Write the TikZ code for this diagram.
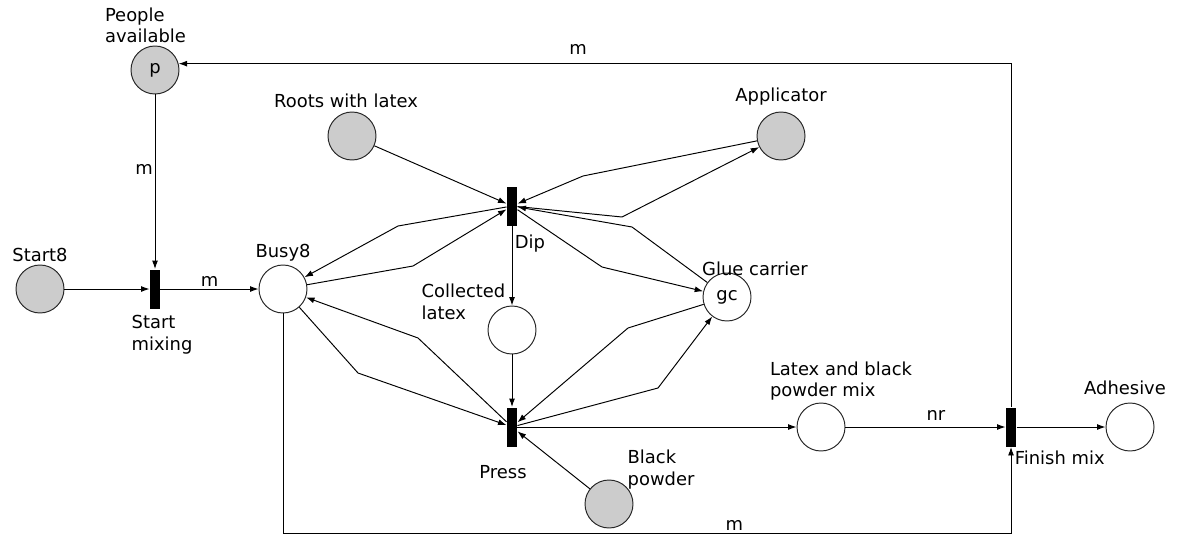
\documentclass[tikz,border=0pt]{standalone}
\usepackage{fontspec}
\setmainfont{DejaVu Sans}
\usetikzlibrary{positioning}
\usetikzlibrary{arrows.meta}
\tikzset{>={Latex[width=1.2mm,length=1.7mm]}}

\begin{document}
\begin{tikzpicture}[on grid, font=\fontsize{10.2}{12.4}\selectfont, line width=0.55pt,
    place/.style={circle, draw=black!85, minimum size=9.6mm, inner sep=0pt},
    token/.style={place, fill=black!20},
    trans/.style={rectangle, fill=black, minimum width=2mm, minimum height=7.8mm, inner sep=0pt} ]

    \useasboundingbox (-0.8,-4.92) rectangle (22.88,5.78);

    %Nodes
    \node[token] (start8) at (0,0) [label={[label distance=-0.8mm]above:Start8}] {};
    \node[trans] (smix) [right=2.3cm of start8, label={[align=left, xshift=1.4mm]below:{Start\\mixing}}] {};
    \node[place] (busy8) [right=2.56cm of smix, label={[label distance=-0.7mm]above:Busy8}] {};
    \node[token] (p) [above=4.38cm of smix, label={[align=left, xshift=-1.9mm, label distance=-0.8mm]above:{People\\available}}] {p};
    \node[token] (roots) [above right=3.06cm and 1.38cm of busy8, label={[xshift=-1.2mm, label distance=-0.5mm]above:Roots with latex}] {};
    \node[trans] (dip) [above right=1.66cm and 4.58cm of busy8, label={[xshift=3.6mm, label distance=0.6mm]below:Dip}] {};
    \node[token] (appl) [above right=1.4cm and 5.38cm of dip, label={above:Applicator}] {};
    \node[place] (coll) [below=2.48cm of dip, label={[align=left, xshift=3.4mm, yshift=-2.7mm]above left:{Collected\\latex}}] {};
    \node[place] (gc) [below right=1.82cm and 4.3cm of dip, label={[xshift=5.6mm, label distance=-2mm]above:Glue carrier}] {gc};
    \node[trans] (press) [below=4.42cm of dip, label={[xshift=-1.8mm, label distance=2.5mm]below:Press}] {};
    \node[token] (bpow) [below right=1.54cm and 1.94cm of press, label={[align=left, xshift=-1mm, yshift=-1.8mm]above right:{Black\\powder}}] {};
    \node[place] (lbpm) [right=6.18cm of press, label={[align=left, xshift=4mm, label distance=-0.9mm]above:{Latex and black\\powder mix}}] {};
    \node[trans] (fin) [right=3.8cm of lbpm, label={[xshift=-1.6mm, yshift=-2.4mm]below right:Finish mix}] {};
    \node[place] (adh) [right=2.38cm of fin, label={[xshift=-1mm, label distance=0.3mm]above:Adhesive}] {};

    %Bends
    \coordinate[above right=0.6cm and 1.42cm of dip] (appl_in_bend);
    \coordinate[below right=0.22cm and 2.2cm of dip] (appl_out_bend);
    \coordinate[below right=0.42cm and 2.4cm of dip] (gc_in_bend);
    \coordinate[below right=1.22cm and 1.8cm of dip] (gc_out_bend);
    \coordinate[below left=0.4cm and 2.28cm of dip] (busy_out_bend);
    \coordinate[below left=1.2cm and 1.98cm of dip] (busy_in_bend);
    \coordinate[above left=1.78cm and 1.88cm of press] (press_busy_bend);
    \coordinate[above left=1.08cm and 3.08cm of press] (busy_press_bend);
    \coordinate[above right=1.98cm and 2.32cm of press] (gc_press_bend);
    \coordinate[above right=0.78cm and 2.92cm of press] (press_gc_bend);
    \coordinate[below=4.88cm of busy8] (bottom_corner);

    %Lines
    \draw[->] (start8) -- (smix);
    \draw[->] (p) -- node[pos=0.43, left, inner sep=1pt] {m} (smix);
    \draw[->] (smix) -- node[above, inner sep=1pt] {m} (busy8);
    \draw[->] (roots) -- (dip);
    \draw[->] (appl) -- (appl_in_bend) -- (dip);
    \draw[->] (dip) -- (appl_out_bend) -- (appl);
    \draw[->] (gc) -- (gc_in_bend) -- (dip);
    \draw[->] (dip) -- (gc_out_bend) -- (gc);
    \draw[->] (dip) -- (busy_out_bend) -- (busy8);
    \draw[->] (busy8) -- (busy_in_bend) -- (dip);
    \draw[->] (dip) -- (coll);
    \draw[->] (coll) -- (press);
    \draw[->] (press) -- (press_busy_bend) -- (busy8);
    \draw[->] (busy8) -- (busy_press_bend) -- (press);
    \draw[->] (gc) -- (gc_press_bend) -- (press);
    \draw[->] (press) -- (press_gc_bend) -- (gc);
    \draw[->] (bpow) -- (press);
    \draw[->] (press) -- (lbpm);
    \draw[->] (lbpm) -- node[pos=0.565, above] {nr} (fin);
    \draw[->] (fin) -- (adh);
    \draw[->] (fin) |- node[pos=0.76, above=0.6mm] {m} (p.15);
    \draw[->] (busy8) -- (bottom_corner) -| node[pos=0.31, above, inner sep=1pt] {m} (fin);
\end{tikzpicture}
\end{document}
